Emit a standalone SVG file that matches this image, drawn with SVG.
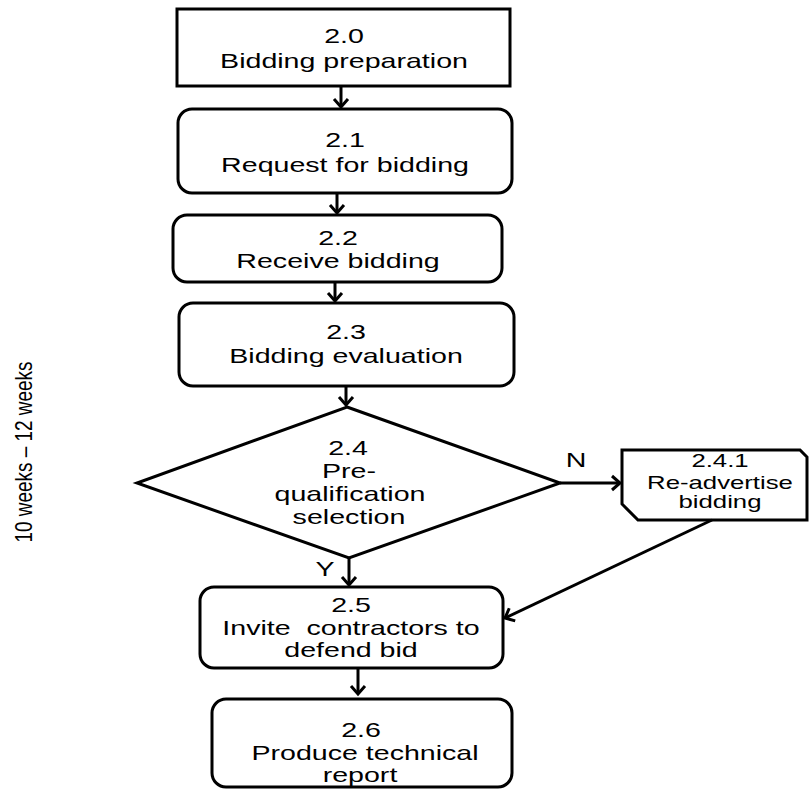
<svg xmlns="http://www.w3.org/2000/svg" width="810" height="789" viewBox="0 0 810 789">
  <style>
    .box { fill: #ffffff; stroke: #000000; stroke-width: 3; }
    .lbl { font-family: "Liberation Sans", Arial, sans-serif; font-size: 20px; fill: #000000; text-anchor: middle; }
    .sm { font-size: 18px; }
    .conn { fill: none; stroke: #000000; stroke-width: 3; }
  </style>
  <defs>
    <marker id="chev" markerUnits="userSpaceOnUse" markerWidth="20" markerHeight="20" viewBox="-10 -10 20 20" refX="0" refY="0" orient="auto">
      <path d="M-8,-7 L0,0 L-8,7" fill="none" stroke="#000000" stroke-width="3" stroke-linejoin="miter"/>
    </marker>
  </defs>

  <rect width="810" height="789" fill="#ffffff"/>

  <!-- duration label on the left -->
  <text class="lbl" font-size="24" textLength="181" lengthAdjust="spacingAndGlyphs" transform="translate(32,452) rotate(-90)" style="font-size:24px">10 weeks – 12 weeks</text>

  <g id="n20">
    <rect class="box" x="177" y="9" width="333" height="77"/>
    <text class="lbl" transform="translate(344,43) scale(1.43,1)">2.0</text>
    <text class="lbl" transform="translate(344,68) scale(1.43,1)">Bidding preparation</text>
  </g>

  <g id="n21">
    <rect class="box" x="178" y="109" width="334" height="84" rx="14"/>
    <text class="lbl" transform="translate(345,147) scale(1.43,1)">2.1</text>
    <text class="lbl" transform="translate(345,172) scale(1.43,1)">Request for bidding</text>
  </g>

  <g id="n22">
    <rect class="box" x="173" y="215" width="329" height="67" rx="14"/>
    <text class="lbl" transform="translate(338,245) scale(1.43,1)">2.2</text>
    <text class="lbl" transform="translate(338,268) scale(1.43,1)">Receive bidding</text>
  </g>

  <g id="n23">
    <rect class="box" x="179" y="303" width="335" height="83" rx="14"/>
    <text class="lbl" transform="translate(346,339) scale(1.43,1)">2.3</text>
    <text class="lbl" transform="translate(346,363) scale(1.43,1)">Bidding evaluation</text>
  </g>

  <g id="n24">
    <polygon class="box" points="347,407 560,483 349,558 137,483"/>
    <text class="lbl" transform="translate(348,455) scale(1.43,1)">2.4</text>
    <text class="lbl" transform="translate(349,478) scale(1.43,1)">Pre-</text>
    <text class="lbl" transform="translate(350,501) scale(1.43,1)">qualification</text>
    <text class="lbl" transform="translate(349,524) scale(1.43,1)">selection</text>
  </g>

  <g id="n241">
    <path class="box" d="M622,450 H800 L807,457 V520 H638 L622,504 Z"/>
    <text class="lbl sm" transform="translate(720,467) scale(1.43,1)">2.4.1</text>
    <text class="lbl sm" transform="translate(720,489) scale(1.43,1)">Re-advertise</text>
    <text class="lbl sm" transform="translate(720,508) scale(1.43,1)">bidding</text>
  </g>

  <g id="n25">
    <rect class="box" x="200" y="587" width="303" height="81" rx="14"/>
    <text class="lbl" transform="translate(351,612) scale(1.43,1)">2.5</text>
    <text class="lbl" xml:space="preserve" transform="translate(351,635) scale(1.43,1)">Invite  contractors to</text>
    <text class="lbl" transform="translate(351,657) scale(1.43,1)">defend bid</text>
  </g>

  <g id="n26">
    <rect class="box" x="212" y="699" width="300" height="88" rx="14"/>
    <text class="lbl" transform="translate(361,737) scale(1.43,1)">2.6</text>
    <text class="lbl" transform="translate(365,760) scale(1.43,1)">Produce technical</text>
    <text class="lbl" transform="translate(360,782) scale(1.43,1)">report</text>
  </g>

  <g id="connectors">
    <line class="conn" x1="341" y1="86" x2="341" y2="107" marker-end="url(#chev)"/>
    <line class="conn" x1="337" y1="193" x2="337" y2="213" marker-end="url(#chev)"/>
    <line class="conn" x1="335" y1="282" x2="335" y2="301" marker-end="url(#chev)"/>
    <line class="conn" x1="346" y1="386" x2="346" y2="405" marker-end="url(#chev)"/>
    <line class="conn" x1="349" y1="558" x2="349" y2="585" marker-end="url(#chev)"/>
    <line class="conn" x1="560" y1="483" x2="620" y2="483" marker-end="url(#chev)"/>
    <line class="conn" x1="712" y1="520" x2="505" y2="618" marker-end="url(#chev)"/>
    <line class="conn" x1="358" y1="668" x2="358" y2="694" marker-end="url(#chev)"/>
    <text class="lbl" transform="translate(576,467) scale(1.43,1)">N</text>
    <text class="lbl" transform="translate(325,576) scale(1.43,1)">Y</text>
  </g>
</svg>
